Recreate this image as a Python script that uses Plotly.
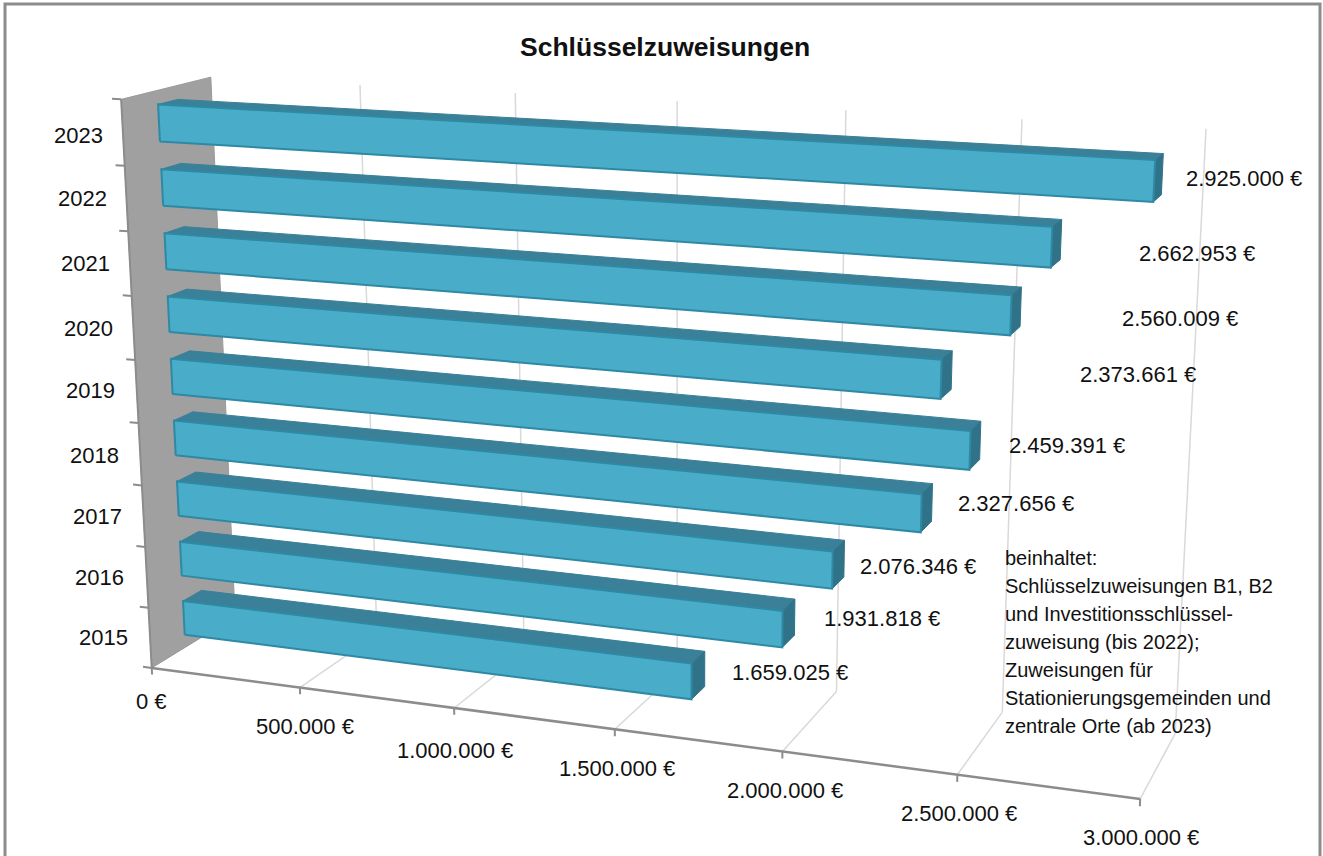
import numpy as np
import plotly.graph_objects as go

# ---- data ----
years = ["2015", "2016", "2017", "2018", "2019", "2020", "2021", "2022", "2023"]
values = [1659025, 1931818, 2076346, 2327656, 2459391, 2373661, 2560009, 2662953, 2925000]
value_labels = ["1.659.025 €", "1.931.818 €", "2.076.346 €", "2.327.656 €", "2.459.391 €",
                "2.373.661 €", "2.560.009 €", "2.662.953 €", "2.925.000 €"]
axis_ticks = [0, 500000, 1000000, 1500000, 2000000, 2500000, 3000000]
axis_tick_labels = ["0 €", "500.000 €", "1.000.000 €", "1.500.000 €", "2.000.000 €",
                    "2.500.000 €", "3.000.000 €"]
title = "Schlüsselzuweisungen"
note_lines = ["beinhaltet:", "Schlüsselzuweisungen B1, B2", "und Investitionsschlüssel-",
              "zuweisung (bis 2022);", "Zuweisungen für", "Stationierungsgemeinden und",
              "zentrale Orte (ab 2023)"]
axis_max = 3000000

# ---- camera: a 3x4 projection solved from the frame of the 3-D box ----
# (value fraction, depth fraction, category fraction) -> screen position
calib_world = [(k / 6, 0, 0) for k in range(7)] + [(k / 6, 1, 1) for k in range(7)] + [
    (0, 0, 1), (0, 1, 0), (4 / 6, 1, 0), (5 / 6, 1, 0), (1, 1, 0),
    (0, 0, 8 / 9), (0, 0, 7 / 9), (0, 0, 6 / 9), (0, 0, 1 / 9)]
calib_screen = [(151, 667), (300, 687), (455, 708), (615, 730), (782, 752), (958, 775), (1141, 797),
                (212, 76), (360, 85), (516, 93), (677, 100), (845, 110), (1021, 120), (1207, 128),
                (120, 100), (235, 618), (837, 690), (1003, 711), (1173, 737),
                (125, 167), (128, 232), (132, 296), (148, 607)]


def solve_camera(world, screen):
    rows, rhs = [], []
    for (X, Y, Z), (u, v) in zip(world, screen):
        rows.append([X, Y, Z, 1, 0, 0, 0, 0, -u * X, -u * Y, -u * Z])
        rows.append([0, 0, 0, 0, X, Y, Z, 1, -v * X, -v * Y, -v * Z])
        rhs += [u, v]
    p = np.linalg.lstsq(np.array(rows, float), np.array(rhs, float), rcond=None)[0]
    return np.append(p, 1.0).reshape(3, 4)


CAM = solve_camera(calib_world, calib_screen)


def project(value, depth, cat):
    q = CAM @ np.array([value / axis_max, depth, cat / len(years), 1.0])
    return q[0] / q[2], q[1] / q[2]


def poly(points):
    xy = [project(*p) for p in points]
    xy.append(xy[0])
    return [a for a, _ in xy], [b for _, b in xy]


def seg(p0, p1):
    a, b = project(*p0), project(*p1)
    return [a[0], b[0]], [a[1], b[1]]


fig = go.Figure()
n = len(years)
GRID = "#D9D9D9"
AXIS = "#8C8C8C"
WALL = "#A0A0A0"
FRONT = "#49ADC9"
TOP = "#3A8098"
SIDE = "#307389"
EDGE = "#2E89A4"
D0, D1 = 0.39, 0.61
B0, B1 = 0.215, 0.785


def add_line(x, y, color, width):
    fig.add_trace(go.Scatter(x=x, y=y, mode="lines", line=dict(color=color, width=width),
                             hoverinfo="skip", showlegend=False))


def add_face(pts, fill, edge, width, text=None):
    x, y = poly(pts)
    fig.add_trace(go.Scatter(x=x, y=y, mode="lines", fill="toself", fillcolor=fill,
                             line=dict(color=edge, width=width), showlegend=False,
                             hoverinfo="text" if text else "skip", text=text))


# wall and grid
add_face([(0, 0, 0), (0, 1, 0), (0, 1, n), (0, 0, n)], WALL, "#9A9A9A", 1)
for t in axis_ticks[1:]:
    x, y = seg((t, 0, 0), (t, 1, 0))
    add_line(x, y, GRID, 1.5)
    x, y = seg((t, 1, 0), (t, 1, n))
    add_line(x, y, GRID, 1.5)

# axes
x, y = seg((0, 0, 0), (0, 0, n))
add_line(x, y, AXIS, 2)
x, y = seg((0, 0, 0), (axis_max, 0, 0))
add_line(x, y, AXIS, 2.5)
for k in range(n + 1):
    x, y = seg((0, 0, k), (-30000, 0, k))
    add_line(x, y, AXIS, 2)
for t in axis_ticks:
    x, y = seg((t, 0, 0), (t, 0, -0.11))
    add_line(x, y, AXIS, 2)

# bars, from the top one down
for i in reversed(range(n)):
    v = values[i]
    z0, z1 = i + B0, i + B1
    label = years[i] + ": " + value_labels[i]
    add_face([(0, D0, z1), (v, D0, z1), (v, D1, z1), (0, D1, z1)], TOP, TOP, 1, label)
    add_face([(v, D0, z0), (v, D1, z0), (v, D1, z1), (v, D0, z1)], SIDE, SIDE, 1, label)
    add_face([(0, D0, z0), (v, D0, z0), (v, D0, z1), (0, D0, z1)], FRONT, EDGE, 2, label)

TXT = "#111111"
FONT = "Liberation Sans"
ann = []


def text(x, y, s, size=22, anchor="center", bold=False, family=FONT):
    ann.append(dict(x=x, y=y, xref="x", yref="y", text="<b>%s</b>" % s if bold else s, showarrow=False,
                    xanchor=anchor, yanchor="middle", font=dict(family=family, size=size, color=TXT)))


text(665, 47, title, size=26.5, bold=True)
cat_label_pos = [(103, 637), (99, 577), (97, 516), (94, 455), (90, 390), (88, 328), (85, 263), (82, 198), (78, 135)]
for s, (a, b) in zip(years, cat_label_pos):
    text(a, b, s)
tick_label_pos = [(151, 701), (305, 726), (455, 750), (617, 768), (785, 790), (959, 813), (1141, 837)]
for s, (a, b) in zip(axis_tick_labels, tick_label_pos):
    text(a, b, s)
value_label_pos = [(790, 672), (882, 618), (918, 566), (1016, 503), (1067, 445), (1138, 374), (1180, 318), (1197, 253), (1244, 178)]
for s, (a, b) in zip(value_labels, value_label_pos):
    text(a, b, s)
for k, s in enumerate(note_lines):
    text(1003, 558 + 28 * k, s, size=20, anchor="left")

fig.update_layout(
    width=1323, height=856,
    margin=dict(l=0, r=0, t=0, b=0), paper_bgcolor="white", plot_bgcolor="white",
    xaxis=dict(range=[0, 1323], visible=False, fixedrange=True),
    yaxis=dict(range=[856, 0], visible=False, fixedrange=True),
    annotations=ann, showlegend=False,
    shapes=[dict(type="rect", xref="x", yref="y", x0=5, y0=4, x1=1320, y1=880,
                 line=dict(color="#8C8C8C", width=3), fillcolor="rgba(0,0,0,0)", layer="below")])
fig.write_html("out.html", config={"displayModeBar": False},
               post_script="document.body.style.margin='0';document.body.style.overflow='hidden';")
